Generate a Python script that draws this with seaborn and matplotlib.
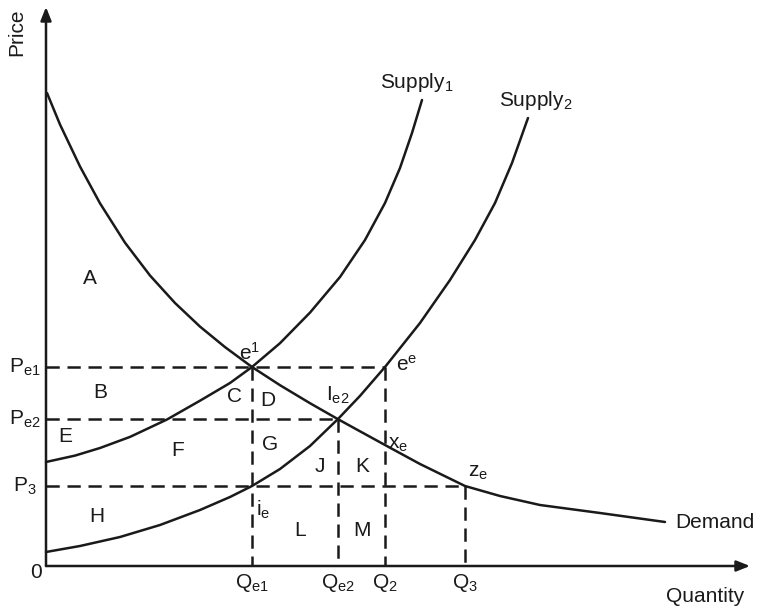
import matplotlib
matplotlib.use("Agg")
import matplotlib.pyplot as plt
import seaborn as sns
import pandas as pd

# ---- data (in chart units) ----
demand_q = [0.1, 1.4, 3.4, 5.4, 7.9, 10.4, 12.9, 15.4, 17.9, 20.6, 23.4, 26.4,
            29.2, 31.4, 33.9, 37.4, 41.9, 45.4, 49.4, 55.4, 61.9]
demand_p = [47.3, 44.15, 39.95, 36.27, 32.33, 29.05, 26.3, 23.94, 21.89, 19.9,
            18.08, 16.28, 14.68, 13.47, 12.1, 10.2, 8.0, 7.0, 6.1, 5.3, 4.4]

supply1_q = [0.0, 2.9, 5.4, 8.4, 12.1, 15.4, 18.4, 20.6, 23.4, 26.4, 29.4,
             31.9, 33.9, 35.4, 36.6, 37.6]
supply1_p = [10.4, 11.04, 11.8, 12.91, 14.65, 16.53, 18.3, 19.9, 22.28, 25.34,
             28.9, 32.6, 36.3, 39.8, 43.3, 46.6]

supply2_q = [0.0, 3.4, 7.4, 11.4, 15.4, 18.4, 20.6, 23.4, 26.4, 29.2, 31.4,
             33.9, 37.4, 40.4, 42.9, 44.9, 46.6, 48.2]
supply2_p = [1.4, 2.0, 2.9, 4.1, 5.6, 6.9, 8.0, 9.7, 12.0, 14.7, 17.01, 19.9,
             24.3, 28.6, 32.6, 36.3, 40.3, 44.8]

q_ticks = {"Q$_{e1}$": 20.6, "Q$_{e2}$": 29.2, "Q$_2$": 33.9, "Q$_3$": 41.9}
p_ticks = {"P$_{e1}$": 19.9, "P$_{e2}$": 14.7, "P$_3$": 8.0}

area_labels = ["A", "B", "C", "D", "E", "F", "G", "J", "K", "H", "L", "M"]
area_x = [4.4, 5.4, 18.9, 22.2, 1.9, 13.2, 22.4, 27.4, 31.6, 5.1, 25.4, 31.6]
area_y = [28.8, 17.3, 16.9, 16.5, 12.9, 11.5, 12.1, 9.9, 9.9, 5.0, 3.5, 3.5]

point_labels = ["e$^1$", "e$^e$", "I$_{e2}$", "x$_e$", "z$_e$", "i$_e$"]
point_x = [20.4, 36.1, 29.2, 35.2, 43.2, 21.7]
point_y = [21.3, 20.1, 17.1, 12.1, 9.4, 5.6]

# ---- figure ----
sns.set_style("white")
plt.rcParams["font.family"] = ["Liberation Sans", "DejaVu Sans"]
plt.rcParams["mathtext.fontset"] = "custom"
plt.rcParams["mathtext.rm"] = "Liberation Sans"
plt.rcParams["mathtext.it"] = "Liberation Sans"

fig = plt.figure(figsize=(7.69, 6.08), dpi=100)
ax = fig.add_axes([0, 0, 1, 1])
ax.set_xlim(-4.6, 72.3)
ax.set_ylim(-4.2, 56.6)
for s in ax.spines.values():
    s.set_visible(False)
ax.set_xticks([])
ax.set_yticks([])

col = "#1a1a1a"
lw = 1.8

df_d = pd.DataFrame({"q": demand_q, "p": demand_p})
df_s1 = pd.DataFrame({"q": supply1_q, "p": supply1_p})
df_s2 = pd.DataFrame({"q": supply2_q, "p": supply2_p})
for df in (df_d, df_s1, df_s2):
    sns.lineplot(data=df, x="q", y="p", ax=ax, color=col, lw=lw, sort=False,
                 estimator=None, solid_joinstyle="round", solid_capstyle="round")
ax.set_xlabel("")
ax.set_ylabel("")

# axes arrows
ax.annotate("", xy=(70.4, 0), xytext=(0, 0),
            arrowprops=dict(arrowstyle="-|>,head_length=0.8,head_width=0.32",
                            color=col, lw=lw, shrinkA=0, shrinkB=0))
ax.annotate("", xy=(0, 55.9), xytext=(0, 0),
            arrowprops=dict(arrowstyle="-|>,head_length=0.8,head_width=0.32",
                            color=col, lw=lw, shrinkA=0, shrinkB=0))

# dashed guide lines
dash = dict(color=col, lw=lw, dashes=(5.3, 3.1))
pe1 = p_ticks["P$_{e1}$"]; pe2 = p_ticks["P$_{e2}$"]; p3 = p_ticks["P$_3$"]
qe1 = q_ticks["Q$_{e1}$"]; qe2 = q_ticks["Q$_{e2}$"]; q2 = q_ticks["Q$_2$"]; q3 = q_ticks["Q$_3$"]
ax.plot([0, q2], [pe1, pe1], **dash)
ax.plot([0, qe2], [pe2, pe2], **dash)
ax.plot([0, q3], [p3, p3], **dash)
ax.plot([qe1, qe1], [pe1, 0], **dash)
ax.plot([qe2, qe2], [pe2, 0], **dash)
ax.plot([q2, q2], [pe1, 0], **dash)
ax.plot([q3, q3], [p3, 0], **dash)

fs = 15
# tick labels
for lab, v in q_ticks.items():
    ax.text(v, -1.7, lab, ha="center", va="center", fontsize=fs, color=col)
for lab, v in p_ticks.items():
    ax.text(-2.1, v, lab, ha="center", va="center", fontsize=fs, color=col)
ax.text(-1.0, -0.6, "0", ha="center", va="center", fontsize=fs, color=col)
ax.text(65.9, -3.1, "Quantity", ha="center", va="center", fontsize=fs, color=col)
ax.text(-2.9, 53.4, "Price", ha="center", va="center", fontsize=fs, color=col,
        rotation=90)

# curve labels
ax.text(37.1, 48.4, "Supply$_1$", ha="center", va="center", fontsize=fs, color=col)
ax.text(49.0, 46.6, "Supply$_2$", ha="center", va="center", fontsize=fs, color=col)
ax.text(62.9, 4.4, "Demand", ha="left", va="center", fontsize=fs, color=col)

for lab, x, y in zip(area_labels, area_x, area_y):
    ax.text(x, y, lab, ha="center", va="center", fontsize=fs, color=col)
for lab, x, y in zip(point_labels, point_x, point_y):
    ax.text(x, y, lab, ha="center", va="center", fontsize=fs, color=col)

fig.savefig("out.png", dpi=100)
